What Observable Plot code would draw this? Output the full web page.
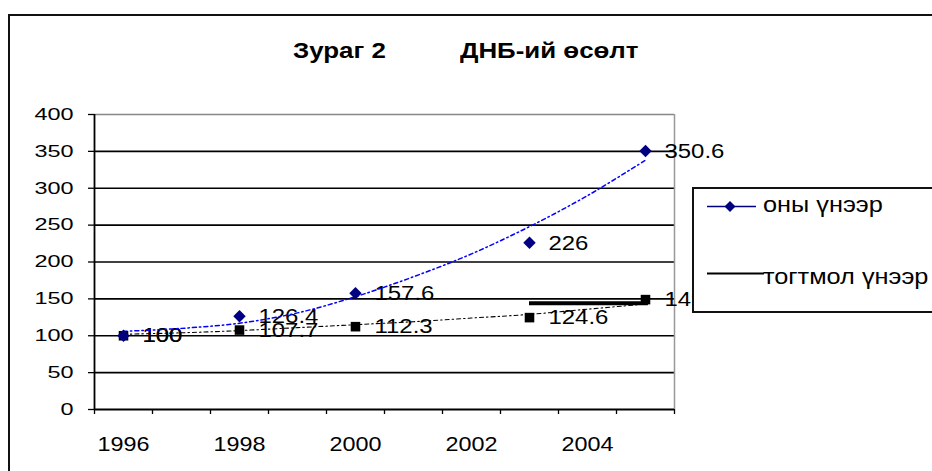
<!DOCTYPE html>
<html>
<head>
<meta charset="utf-8">
<script src="https://cdn.jsdelivr.net/npm/d3@7"></script>
<script src="https://cdn.jsdelivr.net/npm/@observablehq/plot@0.6"></script>
<style>
  body { margin: 0; background: #fff; font-family: "Liberation Sans", Arial, sans-serif; }
  #wrap { position: relative; width: 932px; height: 471px; overflow: hidden; background: #fff; }
  #frame { position: absolute; left: 8px; top: 14px; width: 1000px; height: 1000px; border: 2px solid #111; box-sizing: border-box; pointer-events: none; z-index: 5; }
  #title { position: relative; height: 100px; }
  #title span { position: absolute; top: 40px; font-weight: bold; font-size: 22.5px; line-height: 1; color: #000; transform: scaleX(1.15); transform-origin: left center; white-space: nowrap; }
  #legend { position: absolute; left: 692px; top: 187px; width: 260px; height: 126px; border: 2px solid #111; background: #fff; box-sizing: border-box; z-index: 4; }
  #legend .item { position: absolute; font-size: 22px; line-height: 1; color: #000; white-space: nowrap; transform: scaleX(1.15); transform-origin: left center; }
  #legend svg { position: absolute; left: 0; top: 0; }
</style>
</head>
<body>
<div id="wrap">
  <div id="frame"></div>
  <div id="title"></div>
  <div id="chart"></div>
  <div id="legend"></div>
</div>
<script>
// ---- data ----
const titleParts = ["Зураг 2", "ДНБ-ий өсөлт"];
const seriesNames = ["оны үнээр", "тогтмол үнээр"];
const years = [1996, 1998, 2000, 2003, 2005];
const currentPrices = [100, 126.4, 157.6, 226, 350.6];
const constantPrices = [100, 107.7, 112.3, 124.6, 149];
const trendYears = [1996, 1997, 1998, 1999, 2000, 2001, 2002, 2003, 2004, 2005];
const currentTrend = [106, 110, 117, 131, 153, 180, 211, 248, 290, 338];
const constantTrend = [102, 104, 107, 111, 115, 119, 124, 129, 136, 143];
const barSegment = [{from: 2003, to: 2005.05, value: 144}];
const xLabelYears = [1996, 1998, 2000, 2002, 2004];
const xBoundaries = [1995.5, 1996.5, 1997.5, 1998.5, 1999.5, 2000.5, 2001.5, 2002.5, 2003.5, 2004.5, 2005.5];
const yTicks = [0, 50, 100, 150, 200, 250, 300, 350, 400];
const gridValues = [50, 100, 150, 200, 250, 300, 350];

const cur = years.map((x, i) => ({x, y: currentPrices[i]}));
const con = years.map((x, i) => ({x, y: constantPrices[i]}));
const curT = trendYears.map((x, i) => ({x, y: currentTrend[i]}));
const conT = trendYears.map((x, i) => ({x, y: constantTrend[i]}));

// title
const title = document.getElementById("title");
[[293, titleParts[0]], [460, titleParts[1]]].forEach(([left, t]) => {
  const s = document.createElement("span");
  s.style.left = left + "px";
  s.textContent = t;
  title.appendChild(s);
});

const chart = Plot.plot({
  width: 932,
  height: 371,
  marginLeft: 94,
  marginRight: 258,
  marginTop: 14,
  marginBottom: 62,
  x: {domain: [1995.5, 2005.5], axis: null},
  y: {domain: [0, 400], axis: null},
  style: {fontFamily: "Liberation Sans, Arial, sans-serif", fontSize: "20px", color: "#000", background: "transparent", overflow: "visible"},
  marks: [
    Plot.ruleY(gridValues, {stroke: "#000", strokeWidth: 1.6}),
    Plot.ruleY([400], {stroke: "#888", strokeWidth: 1.5}),
    Plot.ruleX([2005.5], {stroke: "#999", strokeWidth: 1.5}),
    Plot.axisY({ticks: yTicks, tickSize: 6, tickPadding: 15, fontSize: 16.5, stroke: "#000", strokeWidth: 1.3, tickFormat: d => String(d)}),
    Plot.axisX({ticks: xBoundaries, tickSize: 5, tickFormat: () => "", stroke: "#000", strokeWidth: 1.3}),
    Plot.axisX({ticks: xLabelYears, tickSize: 0, tickPadding: 27, fontSize: 20, tickFormat: d => String(d)}),
    Plot.ruleX([1995.5], {stroke: "#000", strokeWidth: 1.8}),
    Plot.ruleY([0], {stroke: "#000", strokeWidth: 1.8}),
    Plot.text(cur, {x: "x", y: "y", text: d => String(d.y), textAnchor: "start", dx: 19, fontSize: 21, fill: "#000"}),
    Plot.text(con, {x: "x", y: "y", text: d => String(d.y), textAnchor: "start", dx: 19, fontSize: 21, fill: "#000"}),
    Plot.line(conT, {x: "x", y: "y", curve: "catmull-rom", stroke: "#000", strokeWidth: 1.1, strokeDasharray: "4,3,1.5,3"}),
    Plot.line(curT, {x: "x", y: "y", curve: "catmull-rom", stroke: "#0000ff", strokeWidth: 1.5, strokeDasharray: "4,3,1.5,3"}),
    Plot.ruleY(barSegment, {y: "value", x1: "from", x2: "to", stroke: "#000", strokeWidth: 4}),
    Plot.dot(con, {x: "x", y: "y", symbol: "square", r: 5.4, fill: "#000", stroke: "none"}),
    Plot.dot(cur, {x: "x", y: "y", symbol: "diamond2", r: 5.6, fill: "#000080", stroke: "none"})
  ]
});
document.getElementById("chart").appendChild(chart);

// widen the glyphs horizontally as in the reference rendering
function stretch(selector, s, anchor) {
  chart.querySelectorAll(selector).forEach(t => {
    const b = t.getBBox();
    const ax = anchor === "end" ? b.x + b.width : anchor === "middle" ? b.x + b.width / 2 : b.x;
    const prev = t.getAttribute("transform") || "";
    t.setAttribute("transform", `${prev} translate(${ax},0) scale(${s},1) translate(${-ax},0)`);
  });
}
stretch('g[aria-label="y-axis tick label"] text', 1.42, "end");
stretch('g[aria-label="x-axis tick label"] text', 1.17, "middle");
stretch('g[aria-label="text"] text', 1.14, "start");

// legend
const legend = document.getElementById("legend");
const ns = "http://www.w3.org/2000/svg";
const lsvg = document.createElementNS(ns, "svg");
lsvg.setAttribute("width", 240);
lsvg.setAttribute("height", 122);
lsvg.innerHTML =
  '<line x1="13" x2="62" y1="17.5" y2="17.5" stroke="#000080" stroke-width="1.6"/>' +
  '<path d="M36,12 L41.5,17.5 L36,23 L30.5,17.5 Z" fill="#000080"/>' +
  '<line x1="13" x2="70" y1="84.5" y2="84.5" stroke="#000" stroke-width="2.2"/>';
legend.appendChild(lsvg);
const it1 = document.createElement("div");
it1.className = "item"; it1.style.left = "69px"; it1.style.top = "5px"; it1.textContent = seriesNames[0];
const it2 = document.createElement("div");
it2.className = "item"; it2.style.left = "69px"; it2.style.top = "77px"; it2.textContent = seriesNames[1];
legend.appendChild(it1); legend.appendChild(it2);
</script>
</body>
</html>
